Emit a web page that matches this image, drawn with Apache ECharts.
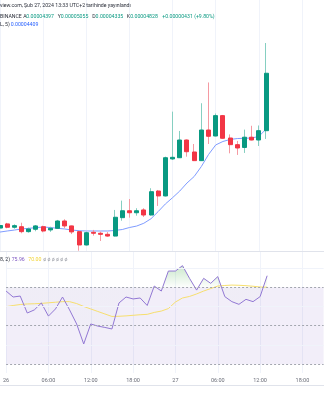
<!DOCTYPE html>
<html>
<head>
<meta charset="utf-8">
<script src="https://cdn.jsdelivr.net/npm/echarts@6/dist/echarts.min.js"></script>
<style>
  html, body { margin: 0; padding: 0; background: #ffffff; }
  #chart { width: 324px; height: 400px; }
</style>
</head>
<body>
<div id="chart"></div>
<script>
// FLOKIUSDT, 1h candles, Feb 26 00:00 -> Feb 27 13:00 (UTC+2)
const opens  = [0.00003666,0.00003697,0.00003672,0.00003676,0.00003639,0.00003657,0.00003676,0.00003652,0.00003664,0.00003719,0.00003682,0.00003639,0.00003539,0.00003634,0.00003627,0.00003619,0.00003606,0.00003744,0.00003796,0.00003781,0.00003802,0.00003764,0.00003944,0.00003907,0.00004185,0.00004194,0.00004327,0.00004237,0.00004172,0.00004402,0.00004357,0.00004510,0.00004342,0.00004292,0.00004271,0.00004348,0.00004327,0.00004397];
const closes = [0.00003685,0.00003672,0.00003684,0.00003639,0.00003659,0.00003682,0.00003644,0.00003664,0.00003719,0.00003682,0.00003637,0.00003539,0.00003631,0.00003627,0.00003619,0.00003606,0.00003747,0.00003796,0.00003781,0.00003796,0.00003764,0.00003939,0.00003907,0.00004194,0.00004197,0.00004327,0.00004239,0.00004172,0.00004402,0.00004355,0.00004510,0.00004340,0.00004292,0.00004267,0.00004348,0.00004327,0.00004397,0.00004828];
const lows   = [0.00003651,0.00003664,0.00003661,0.00003627,0.00003631,0.00003642,0.00003634,0.00003637,0.00003659,0.00003664,0.00003621,0.00003496,0.00003535,0.00003609,0.00003569,0.00003601,0.00003604,0.00003721,0.00003744,0.00003759,0.00003749,0.00003760,0.00003832,0.00003903,0.00004177,0.00004192,0.00004202,0.00004170,0.00004170,0.00004297,0.00004354,0.00004337,0.00004227,0.00004215,0.00004230,0.00004324,0.00004282,0.00004335];
const highs  = [0.00003704,0.00003705,0.00003694,0.00003706,0.00003669,0.00003689,0.00003684,0.00003676,0.00003727,0.00003732,0.00003684,0.00003644,0.00003639,0.00003652,0.00003639,0.00003636,0.00003802,0.00003872,0.00003884,0.00003815,0.00003815,0.00003965,0.00003952,0.00004202,0.00004540,0.00004395,0.00004331,0.00004297,0.00004603,0.00004759,0.00004526,0.00004515,0.00004369,0.00004320,0.00004405,0.00004434,0.00004436,0.00005055];

// moving average overlay
const maValues = [0.00003636,0.00003644,0.00003651,0.00003659,0.00003664,0.00003669,0.00003674,0.00003670,0.00003664,0.00003659,0.00003651,0.00003646,0.00003644,0.00003644,0.00003644,0.00003644,0.00003648,0.00003655,0.00003670,0.00003681,0.00003702,0.00003736,0.00003790,0.00003847,0.00003894,0.00003944,0.00004004,0.00004053,0.00004128,0.00004218,0.00004290,0.00004316,0.00004331,0.00004338,0.00004340,0.00004342,0.00004354,0.00004409];

// RSI and its moving average
const rsiValues   = [68.0,64.9,65.4,56.6,58.2,61.8,55.0,58.7,64.9,58.2,50.9,40.5,50.9,49.8,49.1,48.3,61.8,64.9,63.9,64.4,60.5,70.6,68.0,78.4,78.4,81.2,74.6,68.5,74.6,72.0,75.5,65.1,62.5,61.1,63.7,62.5,65.1,75.96];
const rsiMaValues = [59.9,60.5,61.0,61.3,61.4,61.6,61.9,62.2,62.5,62.5,61.5,60.0,58.7,57.4,56.1,54.8,54.9,55.1,55.4,55.7,55.9,56.9,57.6,58.9,62.3,64.4,65.2,66.5,68.0,69.3,70.6,70.9,71.1,71.0,70.8,70.5,70.1,70.00];

// horizontal grid levels and band levels
const priceGrid = [0.0000350,0.0000360,0.0000370,0.0000380,0.0000390,0.0000400,0.0000410,0.0000420,0.0000430,0.0000440,0.0000450,0.0000460,0.0000470,0.0000480,0.0000490,0.0000500,0.0000510,0.0000520,0.0000530];
const rsiGrid = [40, 60, 80];
const rsiLevels = [70, 50, 30];

// time axis tick labels, one every 6 hours
const tickLabels = ['26', '06:00', '12:00', '18:00', '27', '06:00', '12:00', '18:00'];

// hourly slots shown on the time axis (candles fill the first ones)
const SLOT_COUNT = 46;
const categories = [];
for (let i = 0; i < SLOT_COUNT; i++) {
  const day = i < 24 ? 26 : 27;
  categories.push(day + ' ' + String(i % 24).padStart(2, '0') + ':00');
}

const UP = '#089981', DOWN = '#f23645';
const UP_WICK = '#86cfc1', DOWN_WICK = '#f59aa2';
const X0 = -1.3, STEP = 7.22;
const MAIN = { top: 0, height: 251.5, min: 0.0000349, max: 0.00005378 };
const RSI = { top: 252, height: 121, min: 25.43, max: 88.29 };
const rsiPx = v => RSI.top + (RSI.max - v) / (RSI.max - RSI.min) * RSI.height;

const wickData = opens.map((o, i) => [o, closes[i], lows[i], highs[i]]);
const bodyData = opens.map((o, i) => [o, closes[i], Math.min(o, closes[i]), Math.max(o, closes[i])]);
const lastClose = closes[closes.length - 1];

const FONT = 'Roboto, "Liberation Sans", sans-serif';
const txt = (x, y, text, fill) => ({
  type: 'text', x: x, y: y, silent: true, z: 100,
  style: { text: text, fill: fill, font: '5.2px ' + FONT, verticalAlign: 'middle' }
});

const gridLine = '#f0f3fa';

const chart = echarts.init(document.getElementById('chart'), null, { renderer: 'canvas' });
chart.setOption({
  animation: false,
  backgroundColor: '#ffffff',
  grid: [
    { left: X0, width: STEP * (SLOT_COUNT - 1), top: MAIN.top, height: MAIN.height, containLabel: false },
    { left: X0, width: STEP * (SLOT_COUNT - 1), top: RSI.top, height: RSI.height, containLabel: false }
  ],
  xAxis: [
    {
      type: 'category', gridIndex: 0, data: categories, boundaryGap: false,
      axisLine: { show: true, lineStyle: { color: '#e0e3eb', width: 1 } },
      axisTick: { show: false }, axisLabel: { show: false },
      splitLine: { show: true, interval: i => i % 6 === 0, lineStyle: { color: gridLine, width: 1 } }
    },
    {
      type: 'category', gridIndex: 1, data: categories, boundaryGap: false,
      axisLine: { show: false },
      axisTick: { show: false },
      axisLabel: {
        show: true, interval: i => i % 6 === 0, margin: 5,
        formatter: (v, i) => tickLabels[i / 6] || '',
        color: '#6a6d78', fontSize: 5.5, fontFamily: FONT
      },
      splitLine: { show: true, interval: i => i % 6 === 0, lineStyle: { color: gridLine, width: 1 } }
    }
  ],
  yAxis: [
    { type: 'value', gridIndex: 0, min: MAIN.min, max: MAIN.max, show: false, splitLine: { show: false } },
    { type: 'value', gridIndex: 1, min: RSI.min, max: RSI.max, show: false, splitLine: { show: false } }
  ],
  series: [
    {
      name: 'price grid', type: 'line', xAxisIndex: 0, yAxisIndex: 0, data: [], silent: true, z: 0,
      markLine: {
        silent: true, symbol: 'none', label: { show: false }, animation: false,
        lineStyle: { color: gridLine, type: 'solid', width: 1 },
        data: priceGrid.map(v => ({ yAxis: v }))
      }
    },
    {
      name: 'MA', type: 'line', xAxisIndex: 0, yAxisIndex: 0, data: maValues,
      symbol: 'none', silent: true, z: 1,
      lineStyle: { color: '#7f9cff', width: 1 }
    },
    {
      name: 'wicks', type: 'candlestick', xAxisIndex: 0, yAxisIndex: 0, data: wickData,
      barWidth: 1, silent: true, z: 2,
      itemStyle: { color: UP_WICK, color0: DOWN_WICK, borderColor: UP_WICK, borderColor0: DOWN_WICK, borderWidth: 1 }
    },
    {
      name: 'FLOKIUSDT', type: 'candlestick', xAxisIndex: 0, yAxisIndex: 0, data: bodyData,
      barWidth: 4.5, silent: true, z: 3,
      itemStyle: { color: UP, color0: DOWN, borderColor: UP, borderColor0: DOWN, borderWidth: 1 },
      markLine: {
        silent: true, symbol: 'none', animation: false,
        lineStyle: { color: '#7fcbbd', type: [1, 1], width: 1 },
        label: {
          show: true, position: 'end', distance: -12.6, formatter: 'FLOKIUSDT',
          color: '#ffffff', backgroundColor: UP, padding: [1, 2, 0.5, 2],
          fontSize: 5, fontFamily: FONT
        },
        data: [{ yAxis: lastClose }]
      }
    },
    {
      name: 'rsi frame', type: 'line', xAxisIndex: 1, yAxisIndex: 1, data: [], silent: true, z: 0,
      markArea: {
        silent: true, animation: false,
        itemStyle: { color: 'rgba(126,87,194,0.1)' },
        data: [[{ yAxis: rsiLevels[2] }, { yAxis: rsiLevels[0] }]]
      },
      markLine: {
        silent: true, symbol: 'none', label: { show: false }, animation: false,
        data: rsiGrid.map(v => ({ yAxis: v, lineStyle: { color: gridLine, type: 'solid', width: 1 } }))
          .concat(rsiLevels.map(v => ({ yAxis: v, lineStyle: { color: '#a3a6af', type: [2, 2], width: 1 } })))
      }
    },
    {
      name: 'overbought fill', type: 'line', xAxisIndex: 1, yAxisIndex: 1, data: rsiValues,
      symbol: 'none', silent: true, z: 1,
      lineStyle: { width: 0, opacity: 0 },
      areaStyle: {
        origin: 70,
        color: new echarts.graphic.LinearGradient(0, rsiPx(95), 0, rsiPx(70), [
          { offset: 0, color: 'rgba(76,175,80,0.9)' },
          { offset: 1, color: 'rgba(76,175,80,0.02)' }
        ], true)
      }
    },
    {
      name: 'RSI MA', type: 'line', xAxisIndex: 1, yAxisIndex: 1, data: rsiMaValues,
      symbol: 'none', silent: true, z: 2,
      lineStyle: { color: '#f7df6e', width: 1 }
    },
    {
      name: 'RSI', type: 'line', xAxisIndex: 1, yAxisIndex: 1, data: rsiValues,
      symbol: 'none', silent: true, z: 3,
      lineStyle: { color: '#9278d4', width: 1 }
    }
  ],
  graphic: [
    txt(0, 6, 'view.com, Şub 27, 2024 13:33 UTC+2 tarihinde yayınlandı', '#2a2e39'),
    txt(0, 16.7, 'BINANCE', '#2a2e39'),
    txt(23.3, 16.7, 'A', '#2a2e39'),
    txt(26.3, 16.7, '0.00004397', UP),
    txt(57.7, 16.7, 'Y', '#2a2e39'),
    txt(60.7, 16.7, '0.00005055', UP),
    txt(92.3, 16.7, 'D', '#2a2e39'),
    txt(95.6, 16.7, '0.00004335', UP),
    txt(126.7, 16.7, 'K', '#2a2e39'),
    txt(130.2, 16.7, '0.00004828', UP),
    txt(162.3, 16.7, '+0.00000431 (+9.80%)', UP),
    txt(0, 24.3, 'L, 5)', '#2a2e39'),
    txt(10.7, 24.3, '0.00004409', '#2962ff'),
    txt(0, 259.3, '8, 2)', '#2a2e39'),
    txt(11.7, 259.3, '75.96', '#7e57c2'),
    txt(28.3, 259.3, '70.00', '#f2d433'),
    txt(43.3, 259.3, 'ø ø ø ø ø ø', '#9598a1'),
    {
      type: 'line', silent: true, z: 100,
      shape: { x1: 0, y1: 385.5, x2: 324, y2: 385.5 },
      style: { stroke: '#e0e3eb', lineWidth: 1 }
    }
  ]
});
</script>
</body>
</html>
